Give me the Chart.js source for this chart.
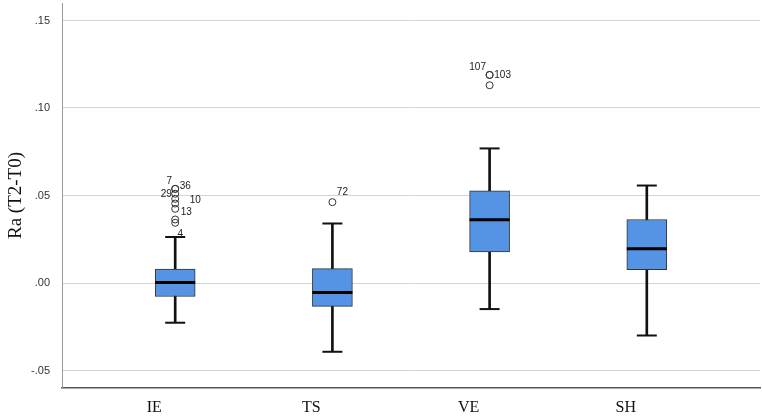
<!DOCTYPE html>
<html>
<head>
<meta charset="utf-8">
<script src="https://cdn.jsdelivr.net/npm/chart.js@4.4.1/dist/chart.umd.min.js"></script>
<style>
  html, body { margin: 0; padding: 0; background: #fff; }
  #wrap { width: 762px; height: 420px; position: relative; }
</style>
</head>
<body>
<div id="wrap"><canvas id="boxChart"></canvas></div>
<script>
"use strict";

/* ── Data ─────────────────────────────────────────────────────────────── */
const categories  = ["IE", "TS", "VE", "SH"];
const whiskerLow  = [-0.0227, -0.0393, -0.0149, -0.0300];
const q1          = [-0.0077, -0.0134,  0.0178,  0.0076];
const median      = [ 0.0003, -0.0054,  0.0361,  0.0196];
const q3          = [ 0.0080,  0.0082,  0.0527,  0.0363];
const whiskerHigh = [ 0.0263,  0.0340,  0.0769,  0.0557];

const yTickValues = [-0.05, 0, 0.05, 0.10, 0.15];
const yTickLabels = ["-.05", ".00", ".05", ".10", ".15"];

// outliers: which box, value, case id
const outlierGroup = [0, 0, 0, 0, 0, 0, 0, 0, 1, 2, 2, 2];
const outlierValue = [0.0538, 0.0538, 0.0510, 0.0481, 0.0454, 0.0424, 0.0363, 0.0344, 0.0462, 0.1189, 0.1189, 0.1130];
const outlierId    = ["7", "36", "29", "10", "", "13", "", "4", "72", "107", "103", ""];

/* label nudges (px) around each outlier circle — style only */
const outlierLabelShift = [
  [-6, -8], [10, -3], [-9, 0], [20, 1], null, [11, 3], null, [5, 11],
  [10, -10], [-12, -8], [13, 0], null,
];

/* ── Outlier case labels ──────────────────────────────────────────────── */
const outlierLabels = {
  id: "outlierLabels",
  afterDatasetsDraw(chart) {
    const { ctx, scales: { x, y } } = chart;
    ctx.save();
    ctx.font = "10px 'Liberation Sans', Arial, sans-serif";
    ctx.fillStyle = "#222";
    ctx.textAlign = "center";
    ctx.textBaseline = "middle";
    outlierId.forEach((id, i) => {
      if (!id) return;
      const [dx, dy] = outlierLabelShift[i];
      ctx.fillText(id,
        x.getPixelForValue(outlierGroup[i]) + dx,
        y.getPixelForValue(outlierValue[i]) + dy);
    });
    ctx.restore();
  },
};

function initBoxChart() {
  const canvas = document.getElementById("boxChart");
  if (!canvas) return;

  const idx = categories.map((_, i) => i);

  new Chart(canvas.getContext("2d"), {
    type: "bar",
    data: {
      datasets: [
        {
          // whisker stems (box covers the middle part)
          type: "bar",
          data: idx.map((i) => ({ x: i, y: [whiskerLow[i], whiskerHigh[i]] })),
          backgroundColor: "#111",
          barThickness: 2,
          grouped: false,
          order: 3,
        },
        {
          type: "bar",
          data: idx.map((i) => ({ x: i, y: [q1[i], q3[i]] })),
          backgroundColor: "#5594e4",
          borderColor: "#333",
          borderWidth: 1,
          borderSkipped: false,
          barThickness: 40,
          grouped: false,
          order: 2,
        },
        {
          type: "scatter",
          data: idx.map((i) => ({ x: i, y: median[i] })),
          pointStyle: "line",
          pointRadius: 20,
          borderColor: "#000",
          borderWidth: 3,
          order: 1,
        },
        {
          type: "scatter",
          data: idx.flatMap((i) => [{ x: i, y: whiskerLow[i] }, { x: i, y: whiskerHigh[i] }]),
          pointStyle: "line",
          pointRadius: 10,
          borderColor: "#111",
          borderWidth: 2,
          order: 1,
        },
        {
          type: "scatter",
          data: outlierValue.map((v, i) => ({ x: outlierGroup[i], y: v })),
          pointStyle: "circle",
          pointRadius: 3.5,
          backgroundColor: "rgba(255,255,255,0)",
          borderColor: "#333",
          borderWidth: 1,
          order: 1,
        },
      ],
    },
    options: {
      responsive: true,
      maintainAspectRatio: false,
      animation: false,
      events: [],
      layout: { autoPadding: false, padding: { top: 3, right: 2, left: 0, bottom: 0 } },
      plugins: {
        legend: { display: false },
        tooltip: { enabled: false },
      },
      scales: {
        x: {
          type: "linear",
          offset: false,
          min: -0.72,
          max: 3.72,
          afterBuildTicks: (axis) => { axis.ticks = idx.map((i) => ({ value: i })); },
          afterFit: (axis) => {
            axis.height = 32;
            axis.paddingLeft = 0;
            axis.paddingRight = 0;
          },
          grid: { display: false, drawTicks: false },
          border: { color: "#555", width: 1.5 },
          ticks: {
            callback: (v, i) => categories[i],
            font: { family: "'Liberation Serif', 'Times New Roman', serif", size: 16 },
            color: "#111",
            padding: 10,
            labelOffset: -21,
            maxRotation: 0,
            autoSkip: false,
          },
        },
        y: {
          type: "linear",
          min: -0.06,
          max: 0.16,
          afterBuildTicks: (axis) => { axis.ticks = yTickValues.map((v) => ({ value: v })); },
          afterFit: (axis) => {
            axis.width = 62;
            axis.paddingTop = 0;
            axis.paddingBottom = 0;
          },
          grid: { color: "#d4d4d4", lineWidth: 1, drawTicks: false },
          border: { color: "#999", width: 1 },
          ticks: {
            callback: (v, i) => yTickLabels[i],
            font: { family: "'Liberation Sans', Arial, sans-serif", size: 11 },
            color: "#333",
            padding: 12,
          },
          title: {
            display: true,
            text: "Ra (T2-T0)",
            font: { family: "'Liberation Serif', 'Times New Roman', serif", size: 19 },
            color: "#111",
            padding: { top: 5, bottom: 0 },
          },
        },
      },
    },
    plugins: [outlierLabels],
  });
}

document.addEventListener("DOMContentLoaded", initBoxChart);
</script>
</body>
</html>
